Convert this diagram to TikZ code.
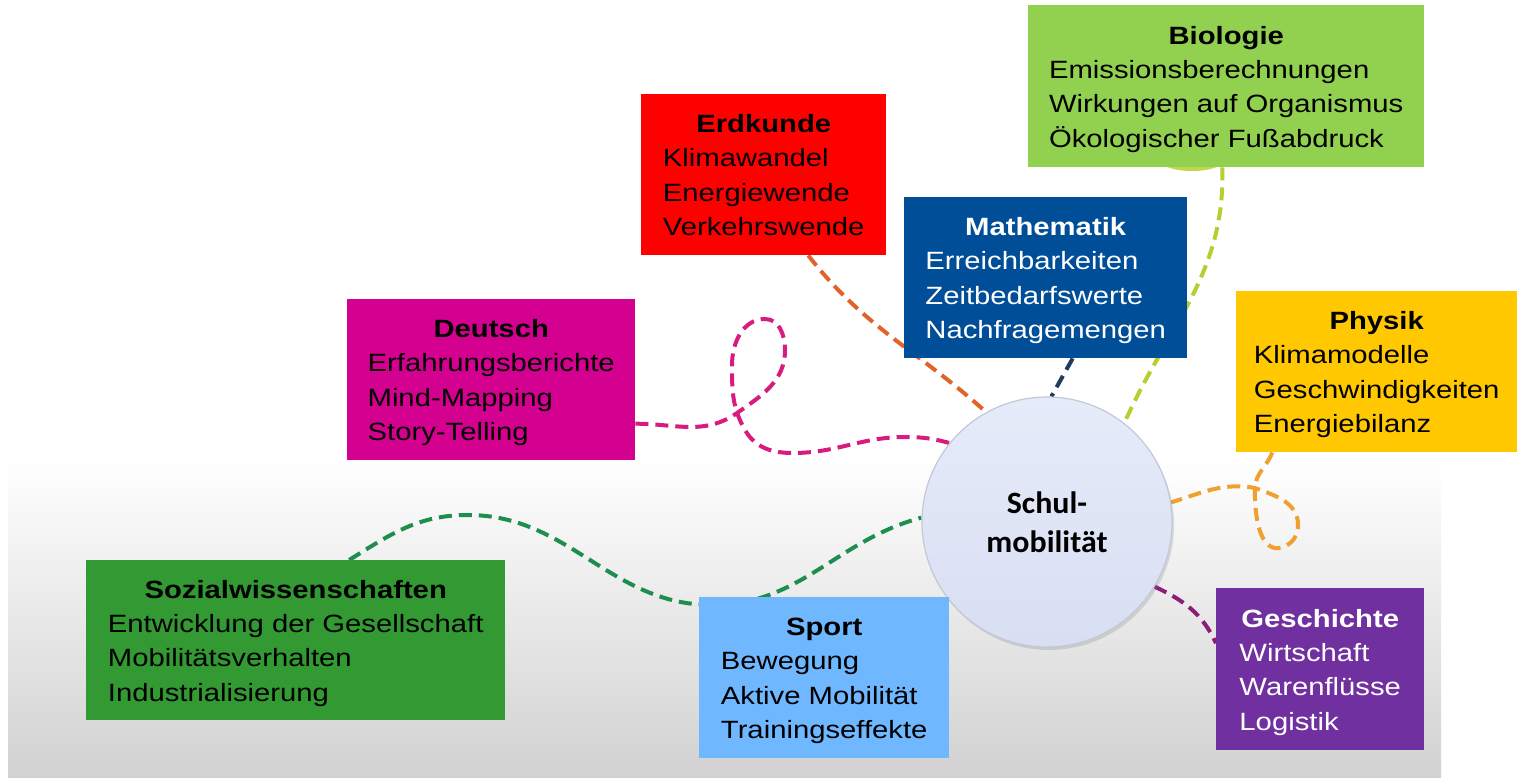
\documentclass[tikz,border=0pt]{standalone}
\usepackage{fontspec}
\setmainfont{Liberation Sans}[FakeStretch=1.17]
\newfontfamily\hubfont{Carlito}[FakeStretch=1.03]
\usepackage{tikz}
\usetikzlibrary{shadows,backgrounds}

\definecolor{biogreen}{HTML}{92D050}
\definecolor{erdred}{HTML}{FF0000}
\definecolor{matblue}{HTML}{004E98}
\definecolor{phyyellow}{HTML}{FFC800}
\definecolor{deumagenta}{HTML}{D4008F}
\definecolor{sozgreen}{HTML}{339933}
\definecolor{spoblue}{HTML}{6FB7FF}
\definecolor{gespurple}{HTML}{7030A0}
\definecolor{erddash}{HTML}{E0632B}
\definecolor{matdash}{HTML}{1F3B5E}
\definecolor{biodash}{HTML}{B4CF30}
\definecolor{deudash}{HTML}{D81B7E}
\definecolor{phydash}{HTML}{EFA02F}
\definecolor{sozdash}{HTML}{1E8E4E}
\definecolor{gesdash}{HTML}{8B1E79}
\definecolor{hubtop}{HTML}{E5EBF9}
\definecolor{hubbot}{HTML}{D9DFF2}
\definecolor{hubline}{HTML}{C2C8D6}

\newcommand{\fach}[2]{\begin{tabular}{@{}l@{}}\multicolumn{1}{@{}c@{}}{\rule{0pt}{29pt}\textbf{#1}}\\#2\end{tabular}}

\tikzset{
	box/.style={rectangle, anchor=north west, inner sep=0pt, minimum height=161pt, font=\fontsize{25}{34.3}\selectfont},
	conn/.style={line width=4pt, dash pattern=on 13pt off 7pt},
	hub/.style={circle, minimum size=250pt, inner sep=0pt, draw=hubline, line width=1.2pt, top color=hubtop, bottom color=hubbot, drop shadow={opacity=0.25, shadow xshift=2pt, shadow yshift=-3pt}, align=center, font=\hubfont\bfseries\fontsize{31}{39}\selectfont}
}

\begin{document}
\begin{tikzpicture}[x=1pt,y=1pt]
	\useasboundingbox (0,0) rectangle (1517,-778);

	\node[hub] (hub) at (1047,-522) {Schul-\\mobilität};

	\node[box, fill=biogreen, minimum width=396pt, minimum height=162pt] (bio) at (1028,-5) {\fach{Biologie}{Emissionsberechnungen\\Wirkungen auf Organismus\\Ökologischer Fußabdruck}};
	\node[box, fill=erdred, minimum width=245pt] (erd) at (641,-94) {\fach{Erdkunde}{Klimawandel\\Energiewende\\Verkehrswende}};
	\node[box, fill=matblue, text=white, minimum width=283pt] (mat) at (904,-197) {\fach{Mathematik}{Erreichbarkeiten\\Zeitbedarfswerte\\Nachfragemengen}};
	\node[box, fill=phyyellow, minimum width=281pt] (phy) at (1236,-291) {\fach{Physik}{Klimamodelle\\Geschwindigkeiten\\Energiebilanz}};
	\node[box, fill=deumagenta, minimum width=288pt] (deu) at (347,-299) {\fach{Deutsch}{Erfahrungsberichte\\Mind-Mapping\\Story-Telling}};
	\node[box, fill=sozgreen, minimum width=419pt, minimum height=160pt] (soz) at (86,-560) {\fach{Sozialwissenschaften}{Entwicklung der Gesellschaft\\Mobilitätsverhalten\\Industrialisierung}};
	\node[box, fill=spoblue, minimum width=250pt] (spo) at (699,-597) {\fach{Sport}{Bewegung\\Aktive Mobilität\\Trainingseffekte}};
	\node[box, fill=gespurple, text=white, minimum width=208pt, minimum height=162pt] (ges) at (1216,-588) {\fach{Geschichte}{Wirtschaft\\Warenflüsse\\Logistik}};

	\begin{pgfonlayer}{background}
		\shade[top color=white, bottom color=black!18] (8,-460) rectangle (1441,-778);
		\fill[biodash!85!white] (1192,-160) ellipse (32 and 11);

		\draw[conn, erddash] ([xshift=44.5pt]erd.south) to[out=-52,in=138] (hub.119);
		\draw[conn, matdash] ([xshift=27pt]mat.south) -- (hub.88);
		\draw[conn, biodash] ([xshift=-4pt]bio.south) to[out=-88,in=66] (hub.52);
		\draw[conn, deudash] ([yshift=-44pt]deu.east) to[out=0,in=215] (737,-413) to[out=35,in=-90] (785,-350) to[out=90,in=0] (765,-319) to[out=180,in=90] (732,-365) to[out=-90,in=120] (745,-430) to[out=-60,in=180] (793,-453) to[out=0,in=180] (905,-437) to[out=0,in=165] (hub.141);
		\draw[conn, phydash] ([xshift=-104.5pt]phy.south) to[out=-110,in=88] (1255,-488) to[out=-92,in=200] (1283,-547) to[out=20,in=-90] (1298,-525) to[out=90,in=-20] (1255,-488) to[out=170,in=17] (hub.9);
		\draw[conn, sozdash] ([xshift=53.5pt]soz.north) to[out=32,in=180] (468,-515) to[out=0,in=180] (712,-605) to[out=0,in=195] (hub.178);
		\draw[conn, gesdash] (hub.-31) to[out=-25,in=115] ([yshift=26pt]ges.west);
	\end{pgfonlayer}
\end{tikzpicture}
\end{document}
